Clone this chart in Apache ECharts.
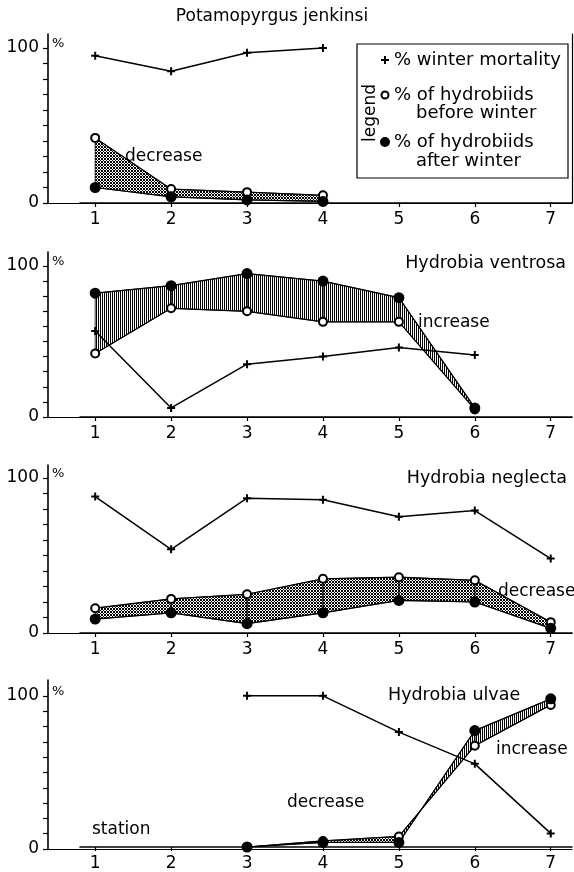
<!DOCTYPE html>
<html>
<head>
<meta charset="utf-8">
<script src="https://cdn.jsdelivr.net/npm/echarts/dist/echarts.min.js"></script>
<style>
  html, body { margin: 0; padding: 0; background: #fff; }
  #chart { width: 574px; height: 872px; }
</style>
</head>
<body>
<div id="chart"></div>
<script>
// ---- data ----
const stations = [1, 2, 3, 4, 5, 6, 7];
const yTicks = [0, 10, 20, 30, 40, 50, 60, 70, 80, 90, 100];
const yLabels = [0, 100];
const speciesNames = ['Potamopyrgus jenkinsi', 'Hydrobia ventrosa', 'Hydrobia neglecta', 'Hydrobia ulvae'];

const mortJenkinsi   = [95, 85, 97, 100, null, null, null];
const beforeJenkinsi = [42, 9, 7, 5, null, null, null];
const afterJenkinsi  = [10, 4, 2, 1, null, null, null];

const mortVentrosa   = [57, 6, 35, 40, 46, 41, null];
const beforeVentrosa = [42, 72, 70, 63, 63, 5, null];
const afterVentrosa  = [82, 87, 95, 90, 79, 6, null];

const mortNeglecta   = [88, 54, 87, 86, 75, 79, 48];
const beforeNeglecta = [16, 22, 25, 35, 36, 34, 7];
const afterNeglecta  = [9, 13, 6, 13, 21, 20, 3];

const mortUlvae   = [null, null, 100, 100, 76, 55, 9];
const beforeUlvae = [null, null, 0, 4, 7, 67, 94];
const afterUlvae  = [null, null, 0, 3, 3, 77, 98];

const panelData = [
  [mortJenkinsi, beforeJenkinsi, afterJenkinsi],
  [mortVentrosa, beforeVentrosa, afterVentrosa],
  [mortNeglecta, beforeNeglecta, afterNeglecta],
  [mortUlvae, beforeUlvae, afterUlvae]
];

// ---- layout (px) ----
const panelLayout = [
  { top: 34, y100: 48, y0: 203 },
  { top: 252, y100: 266, y0: 417 },
  { top: 465, y100: 478, y0: 633 },
  { top: 680, y100: 696, y0: 849 }
];
const xMin = 0.8, xMax = 7.28;
const FONT = '"DejaVu Sans", sans-serif';

// fill patterns
function makePattern(w, h, isInk) {
  const c = document.createElement('canvas');
  c.width = w; c.height = h;
  const ctx = c.getContext('2d');
  ctx.fillStyle = '#000';
  for (let y = 0; y < h; y++) {
    for (let x = 0; x < w; x++) {
      if (isInk(x, y)) ctx.fillRect(x, y, 1, 1);
    }
  }
  return { image: c, repeat: 'repeat' };
}
const hatch = makePattern(2, 2, (x) => x === 0);
const stipple = makePattern(3, 3, (x, y) => x === y || x + y === 2);

function segments(before, after) {
  const segs = [];
  for (let i = 0; i < stations.length - 1; i++) {
    const v = [before[i], after[i], before[i + 1], after[i + 1]];
    if (v.some(d => d == null)) continue;
    segs.push([stations[i], before[i], after[i], stations[i + 1], before[i + 1], after[i + 1]]);
  }
  return segs;
}

function pairs(arr) {
  return stations.map((s, i) => [s, arr[i] == null ? '-' : arr[i]]);
}

const plusPath = 'path://M3,0H5V3H8V5H5V8H3V5H0V3H3Z';

const grid = [], xAxis = [], yAxis = [], series = [], graphic = [];

panelLayout.forEach((L, p) => {
  const h = L.y0 - L.top;
  const yMax = 100 * (L.y0 - L.top) / (L.y0 - L.y100);
  // frame grid (y axis + top line)
  grid.push({ left: 48, right: 2, top: L.top, height: h });
  // data grid (x axis)
  grid.push({ left: 80, right: 2, top: L.top, height: h });

  xAxis.push({
    gridIndex: 2 * p, type: 'value', position: 'top', min: 0, max: 1,
    axisLine: { show: true, lineStyle: { color: '#000', width: 1.2 } },
    axisTick: { show: false }, axisLabel: { show: false }, splitLine: { show: false }
  });
  xAxis.push({
    gridIndex: 2 * p + 1, type: 'value', position: 'bottom', min: xMin, max: xMax,
    axisLine: { show: true, lineStyle: { color: '#000', width: 1.6 } },
    axisTick: { show: true, customValues: stations, length: 4, lineStyle: { color: '#000', width: 1.2 } },
    axisLabel: { customValues: stations, color: '#000', fontSize: 17, fontFamily: FONT, margin: 8 },
    splitLine: { show: false }
  });
  yAxis.push({
    gridIndex: 2 * p, type: 'value', position: 'left', min: 0, max: yMax,
    axisLine: { show: true, lineStyle: { color: '#000', width: 1.6 } },
    axisTick: { show: true, customValues: yTicks, length: 5, lineStyle: { color: '#000', width: 1.2 } },
    axisLabel: { customValues: yLabels, color: '#000', fontSize: 17, fontFamily: FONT, margin: 9 },
    splitLine: { show: false }
  });
  yAxis.push({
    gridIndex: 2 * p + 1, type: 'value', min: 0, max: yMax, show: false
  });

  const [mort, before, after] = panelData[p];
  const xi = 2 * p + 1, yi = 2 * p + 1;

  series.push({
    type: 'custom', xAxisIndex: xi, yAxisIndex: yi, z: 1, clip: true,
    encode: { x: [0, 3], y: [1, 2, 4, 5] },
    data: segments(before, after),
    renderItem(params, api) {
      const x1 = api.value(0), b1 = api.value(1), a1 = api.value(2);
      const x2 = api.value(3), b2 = api.value(4), a2 = api.value(5);
      const inc = (a1 - b1) + (a2 - b2) > 0;
      return {
        type: 'polygon',
        shape: { points: [api.coord([x1, b1]), api.coord([x2, b2]), api.coord([x2, a2]), api.coord([x1, a1])] },
        style: { fill: inc ? hatch : stipple, stroke: '#000', lineWidth: 0.8 }
      };
    }
  });
  series.push({
    name: '% of hydrobiids before winter', type: 'line', xAxisIndex: xi, yAxisIndex: yi, z: 3,
    data: pairs(before), symbol: 'emptyCircle', symbolSize: 8,
    itemStyle: { color: '#000', borderColor: '#000', borderWidth: 2 },
    lineStyle: { color: '#000', width: 1.2 }
  });
  series.push({
    name: '% of hydrobiids after winter', type: 'line', xAxisIndex: xi, yAxisIndex: yi, z: 4,
    data: pairs(after), symbol: 'circle', symbolSize: 11,
    itemStyle: { color: '#000', borderWidth: 0 },
    lineStyle: { color: '#000', width: 1.2 }
  });
  series.push({
    name: '% winter mortality', type: 'line', xAxisIndex: xi, yAxisIndex: yi, z: 5,
    data: pairs(mort), symbol: plusPath, symbolSize: 8,
    itemStyle: { color: '#000', borderWidth: 0 },
    lineStyle: { color: '#000', width: 1.5 }
  });

  graphic.push({
    type: 'text', x: 52, y: L.y100 - 4,
    style: { text: '%', fill: '#000', font: '13px ' + FONT, align: 'left', verticalAlign: 'middle' }
  });
});

// right frame line of the top panel
yAxis.push({
  gridIndex: 0, type: 'value', position: 'right', min: 0, max: 1,
  axisLine: { show: true, lineStyle: { color: '#000', width: 1.2 } },
  axisTick: { show: false }, axisLabel: { show: false }, splitLine: { show: false }
});

// ---- texts ----
function txt(text, x, y, align, size) {
  return {
    type: 'text', x: x, y: y, z: 10,
    style: { text: text, fill: '#000', font: (size || 17) + 'px ' + FONT, align: align || 'left', verticalAlign: 'middle' }
  };
}
graphic.push(
  txt(speciesNames[0], 272, 17, 'center'),
  txt(speciesNames[1], 566, 263, 'right', 17.5),
  txt(speciesNames[2], 567, 478, 'right', 17.5),
  txt(speciesNames[3], 388, 695, 'left', 17.5),
  txt('decrease', 125, 157),
  txt('increase', 418, 323),
  txt('decrease', 498, 592),
  txt('station', 92, 830),
  txt('decrease', 287, 803),
  txt('increase', 496, 750)
);

// legend box
graphic.push(
  { type: 'rect', z: 8, shape: { x: 357, y: 44, width: 211, height: 134 },
    style: { fill: '#fff', stroke: '#000', lineWidth: 1.2 } },
  { type: 'text', z: 10, x: 371, y: 113, rotation: Math.PI / 2,
    style: { text: 'legend', fill: '#000', font: '17px ' + FONT, align: 'center', verticalAlign: 'middle' } },
  { type: 'rect', z: 10, shape: { x: 381, y: 59, width: 8, height: 2 }, style: { fill: '#000' } },
  { type: 'rect', z: 10, shape: { x: 384, y: 56, width: 2, height: 8 }, style: { fill: '#000' } },
  { type: 'circle', z: 10, shape: { cx: 385, cy: 95, r: 3.5 }, style: { fill: '#fff', stroke: '#000', lineWidth: 2 } },
  { type: 'circle', z: 10, shape: { cx: 385, cy: 142, r: 5 }, style: { fill: '#000' } },
  txt('% winter mortality', 394, 60, 'left', 18),
  txt('% of hydrobiids', 394, 95, 'left', 18),
  txt('before winter', 416, 113, 'left', 18),
  txt('% of hydrobiids', 394, 142, 'left', 18),
  txt('after winter', 416, 161, 'left', 18)
);

const chart = echarts.init(document.getElementById('chart'));
chart.setOption({
  animation: false,
  backgroundColor: '#fff',
  grid: grid,
  xAxis: xAxis,
  yAxis: yAxis,
  series: series,
  graphic: graphic
});
</script>
</body>
</html>
